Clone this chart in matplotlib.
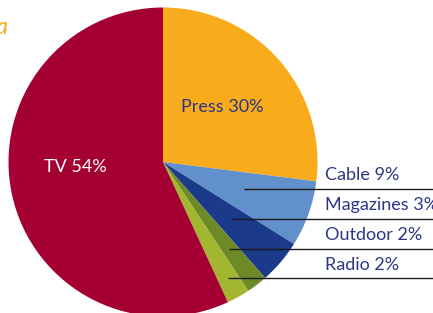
import matplotlib
matplotlib.use("Agg")
import matplotlib.pyplot as plt

# media share of ad spend, as labelled
labels = ["Press", "Cable", "Magazines", "Outdoor", "Radio", "TV"]
shares = [30, 9, 3, 2, 2, 54]
# slice sizes as actually drawn in the picture (degrees / 3.6)
drawn = [27.0, 6.9, 4.6, 2.2, 2.4, 56.9]
colors = ["#f8ab1b", "#6290cb", "#1c3a8a", "#6e8a26", "#a3b630", "#a50034"]

W, H = 433, 313
navy = "#2d3684"

fig = plt.figure(figsize=(W / 100, H / 100), dpi=100)
ax = fig.add_axes([0, 0, 1, 1])
ax.pie(drawn, colors=colors, startangle=90, counterclock=False,
       center=(163, H - 162), radius=154.5,
       wedgeprops=dict(linewidth=0))
ax.set_xlim(0, W)
ax.set_ylim(0, H)
ax.set_aspect("equal")
ax.axis("off")

font = "Lato"
ax.text(222, H - 107, f"{labels[0]} {shares[0]}%", color=navy, fontsize=13,
        family=font, ha="center", va="center")
ax.text(75, H - 167, f"{labels[5]} {shares[5]}%", color="white", fontsize=13,
        family=font, ha="center", va="center")

# right-hand labels with leader rules underneath
label_y = [175, 205, 235, 265]
rule_y = [188.5, 218.5, 248.5, 278]
rule_x0 = [244, 232, 229, 228]
for i in range(4):
    ax.text(325, H - label_y[i], f"{labels[i + 1]} {shares[i + 1]}%", color=navy,
            fontsize=13, family=font, ha="left", va="center")
    ax.plot([rule_x0[i], W], [H - rule_y[i]] * 2, color="#1a1a1a", lw=1,
            solid_capstyle="butt")

# cut-off title fragment in top-left corner
ax.text(8, H - 27, "a", color="#f8ab1b", fontsize=17, family=font,
        style="italic", ha="right", va="center")

fig.savefig("out.png", dpi=100)
